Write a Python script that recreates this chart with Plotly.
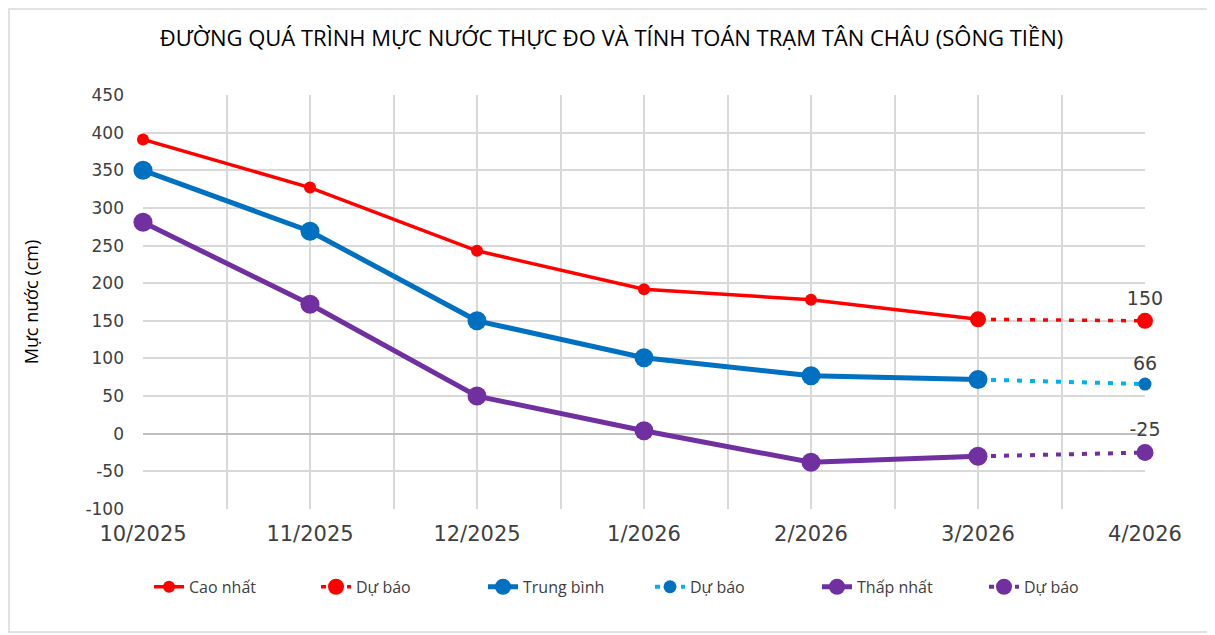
import plotly.graph_objects as go

months = ["10/2025", "11/2025", "12/2025", "1/2026", "2/2026", "3/2026", "4/2026"]

cao_nhat = [391, 327, 243, 192, 178, 152]
trung_binh = [350, 269, 150, 101, 77, 72]
thap_nhat = [281, 172, 50, 4, -38, -30]

# forecast: last observed month -> next month
du_bao_cao = [152, 150]
du_bao_tb = [72, 66]
du_bao_thap = [-30, -25]

y_ticks = [-100, -50, 0, 50, 100, 150, 200, 250, 300, 350, 400, 450]

x_obs = list(range(len(cao_nhat)))
x_fc = [len(cao_nhat) - 1, len(cao_nhat)]

RED = "#FF0000"
BLUE = "#0070C0"
LIGHT_BLUE = "#00B0F0"
PURPLE = "#7030A0"
FONT = "Open Sans, sans-serif"
TICK_FONT = "DejaVu Sans, sans-serif"


def fc_text(vals):
    return [""] * (len(vals) - 1) + [str(vals[-1])]


label_font = dict(size=19, color="#404040", family=TICK_FONT)

# forecast traces first so observed markers sit on top
fc_red = go.Scatter(
    x=x_fc, y=du_bao_cao, name="Dự báo", mode="lines+markers+text",
    line=dict(color=RED, width=3.5, dash="5px,8px"), marker=dict(size=16, color=RED),
    text=fc_text(du_bao_cao), textposition="top center", textfont=label_font,
    cliponaxis=False, legendrank=2
)
obs_red = go.Scatter(
    x=x_obs, y=cao_nhat, name="Cao nhất", mode="lines+markers",
    line=dict(color=RED, width=3.5), marker=dict(size=12, color=RED),
    cliponaxis=False, legendrank=1
)
fc_blue = go.Scatter(
    x=x_fc, y=du_bao_tb, name="Dự báo", mode="lines+markers+text",
    line=dict(color=LIGHT_BLUE, width=4, dash="5px,8px"), marker=dict(size=13, color=BLUE),
    text=fc_text(du_bao_tb), textposition="top center", textfont=label_font,
    cliponaxis=False, legendrank=4
)
obs_blue = go.Scatter(
    x=x_obs, y=trung_binh, name="Trung bình", mode="lines+markers",
    line=dict(color=BLUE, width=5), marker=dict(size=19, color=BLUE),
    cliponaxis=False, legendrank=3
)
fc_purple = go.Scatter(
    x=x_fc, y=du_bao_thap, name="Dự báo", mode="lines+markers+text",
    line=dict(color=PURPLE, width=4, dash="5px,8px"), marker=dict(size=17, color=PURPLE),
    text=fc_text(du_bao_thap), textposition="top center", textfont=label_font,
    cliponaxis=False, legendrank=6
)
obs_purple = go.Scatter(
    x=x_obs, y=thap_nhat, name="Thấp nhất", mode="lines+markers",
    line=dict(color=PURPLE, width=5), marker=dict(size=19, color=PURPLE),
    cliponaxis=False, legendrank=5
)

fig = go.Figure([fc_red, obs_red, fc_blue, obs_blue, fc_purple, obs_purple])

# page body has an 8px margin, so the figure is slightly smaller
fig.update_layout(
    template="plotly_white",
    width=1207,
    height=627,
    autosize=False,
    paper_bgcolor="white",
    plot_bgcolor="rgba(0,0,0,0)",
    margin=dict(l=135, r=70, t=87, b=126, autoexpand=False),
    title=dict(
        text="ĐƯỜNG QUÁ TRÌNH MỰC NƯỚC THỰC ĐO VÀ TÍNH TOÁN TRẠM TÂN CHÂU (SÔNG TIỀN)",
        x=0.5, xanchor="center", y=0.952, yanchor="middle",
        font=dict(family=FONT, size=22, color="#000000")
    ),
    legend=dict(
        orientation="h", x=0.506, xanchor="center", y=-0.188, yanchor="middle",
        font=dict(family=FONT, size=16, color="#404040"),
        entrywidth=122, entrywidthmode="pixels"
    ),
    showlegend=True,
)

fig.update_xaxes(
    range=[0, len(months) - 1],
    tickvals=list(range(len(months))),
    ticktext=months,
    tickfont=dict(family=TICK_FONT, size=21, color="#404040"),
    showgrid=True, gridcolor="#D9D9D9", gridwidth=1.5,
    minor=dict(dtick=0.5, showgrid=True, gridcolor="#D9D9D9", gridwidth=1.5),
    zeroline=False, showline=False, ticks="", ticklabelstandoff=10,
)
fig.update_yaxes(
    range=[-100, 450],
    tickvals=y_ticks,
    ticktext=[str(v) for v in y_ticks],
    tickfont=dict(family=TICK_FONT, size=17, color="#404040"),
    showgrid=True, gridcolor="#D9D9D9", gridwidth=1.5,
    zeroline=True, zerolinecolor="#BFBFBF", zerolinewidth=2,
    showline=False, ticks="", ticklabelstandoff=18,
    title=dict(text="Mực nước (cm)", font=dict(family=FONT, size=18, color="#000000"), standoff=42),
)

# chart border
fig.add_shape(
    type="rect", xref="paper", yref="paper",
    x0=(9 - 143) / 1002, x1=(1212 - 143) / 1002,
    y0=(509 - 632) / 414, y1=(509 - 9) / 414,
    line=dict(color="#D9D9D9", width=1.5), fillcolor="rgba(0,0,0,0)", layer="below"
)

fig.write_html("out.html")
